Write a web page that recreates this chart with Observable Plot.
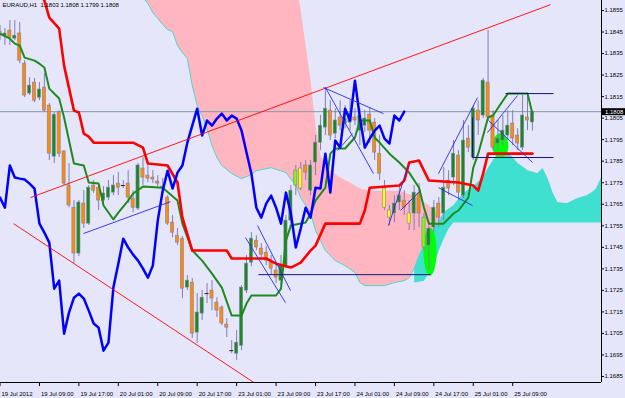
<!DOCTYPE html>
<html><head><meta charset="utf-8">
<script src="https://cdn.jsdelivr.net/npm/d3@7"></script>
<script src="https://cdn.jsdelivr.net/npm/@observablehq/plot@0.6"></script>
<style>html,body{margin:0;padding:0;background:#E6E6FA;overflow:hidden}</style>
</head><body><div id="chart"></div>
<script>
// ---- EURAUD H1 candles (bar index 0 = 19 Jul 01:00) ----
const open = [1.18452,1.18429,1.18457,1.18419,1.18443,1.18303,1.18164,1.18215,1.18145,1.18192,1.18108,1.17871,1.18076,1.17895,1.17737,1.17634,1.17421,1.17653,1.17560,1.17737,1.17727,1.17667,1.17681,1.17704,1.17746,1.17737,1.17746,1.17676,1.17630,1.17816,1.17783,1.17774,1.17755,1.17732,1.17681,1.17565,1.17504,1.17490,1.17263,1.17286,1.17054,1.17142,1.17235,1.17249,1.17193,1.17170,1.17091,1.16970,1.16956,1.16993,1.17249,1.17379,1.17481,1.17444,1.17425,1.17379,1.17342,1.17295,1.17365,1.17574,1.17737,1.17816,1.17830,1.17713,1.17844,1.17936,1.18006,1.18085,1.17978,1.18053,1.18025,1.18029,1.18053,1.17992,1.18015,1.18066,1.18029,1.17885,1.17723,1.17621,1.17607,1.17658,1.17667,1.17607,1.17607,1.17700,1.17588,1.17458,1.17542,1.17653,1.17607,1.17760,1.17774,1.17876,1.17690,1.17955,1.17867,1.18085,1.18062,1.18215,1.18062,1.17932,1.17946,1.17969,1.18025,1.17969,1.17913,1.18053,1.18030];
const high = [1.18480,1.18466,1.18503,1.18503,1.18494,1.18317,1.18238,1.18234,1.18215,1.18257,1.18118,1.18076,1.18085,1.17899,1.17839,1.17667,1.17667,1.17713,1.17737,1.17760,1.17746,1.17732,1.17760,1.17783,1.17797,1.17760,1.17806,1.17713,1.17839,1.17867,1.17830,1.17806,1.17783,1.17769,1.17690,1.17597,1.17537,1.17500,1.17319,1.17305,1.17235,1.17249,1.17281,1.17295,1.17216,1.17179,1.17119,1.17017,1.17063,1.17272,1.17412,1.17518,1.17504,1.17467,1.17453,1.17412,1.17370,1.17412,1.17597,1.17737,1.17830,1.17844,1.17853,1.17853,1.17969,1.18062,1.18192,1.18131,1.18094,1.18131,1.18108,1.18131,1.18094,1.18094,1.18085,1.18099,1.18048,1.17969,1.17760,1.17644,1.17690,1.17737,1.17713,1.17667,1.17737,1.17746,1.17607,1.17565,1.17667,1.17681,1.17820,1.17806,1.17946,1.17899,1.18039,1.18015,1.18108,1.18131,1.18234,1.18457,1.18085,1.18039,1.18062,1.18085,1.18085,1.18001,1.18155,1.18155,1.18080];
const low = [1.18410,1.18387,1.18387,1.18410,1.18303,1.18145,1.18155,1.18122,1.18131,1.18076,1.17853,1.17839,1.17867,1.17737,1.17634,1.17374,1.17407,1.17537,1.17551,1.17700,1.17621,1.17644,1.17667,1.17690,1.17690,1.17723,1.17653,1.17611,1.17621,1.17737,1.17751,1.17746,1.17732,1.17713,1.17551,1.17495,1.17458,1.17212,1.17249,1.17026,1.17003,1.17110,1.17189,1.17156,1.17124,1.17086,1.17031,1.16956,1.16924,1.16970,1.17235,1.17360,1.17435,1.17388,1.17365,1.17319,1.17281,1.17272,1.17351,1.17551,1.17690,1.17713,1.17760,1.17690,1.17783,1.17899,1.17969,1.17946,1.17955,1.17992,1.18001,1.17992,1.18015,1.17922,1.17983,1.17932,1.17853,1.17760,1.17621,1.17551,1.17565,1.17621,1.17597,1.17528,1.17528,1.17542,1.17435,1.17342,1.17518,1.17542,1.17574,1.17690,1.17737,1.17667,1.17676,1.17890,1.17853,1.17969,1.18048,1.18039,1.17899,1.17899,1.17922,1.17946,1.17922,1.17899,1.17899,1.17992,1.17990];
const close = [1.18433,1.18443,1.18424,1.18433,1.18317,1.18155,1.18201,1.18131,1.18183,1.18085,1.17885,1.18066,1.17885,1.17746,1.17644,1.17421,1.17658,1.17560,1.17727,1.17713,1.17667,1.17700,1.17727,1.17737,1.17727,1.17737,1.17681,1.17634,1.17830,1.17774,1.17769,1.17765,1.17746,1.17723,1.17560,1.17518,1.17472,1.17258,1.17295,1.17049,1.17147,1.17216,1.17235,1.17212,1.17156,1.17096,1.17077,1.16970,1.17007,1.17263,1.17374,1.17490,1.17449,1.17416,1.17388,1.17351,1.17309,1.17365,1.17574,1.17713,1.17806,1.17723,1.17797,1.17830,1.17936,1.18015,1.18094,1.17969,1.18039,1.18015,1.18048,1.18071,1.18039,1.18062,1.18048,1.17992,1.17890,1.17792,1.17634,1.17588,1.17653,1.17690,1.17634,1.17560,1.17704,1.17607,1.17449,1.17537,1.17634,1.17588,1.17727,1.17723,1.17885,1.17704,1.17946,1.17913,1.18094,1.18039,1.18224,1.18053,1.17913,1.17955,1.17992,1.18015,1.17955,1.17932,1.18062,1.18039,1.18080];
const highlightBars = [60, 61, 78, 79, 83, 86];
const highlightColors = ["#7CFC00", "#FFFF00", "#FFFF00", "#FFFF00", "#FFFF00", "#7CFC00"];

// ---- Ichimoku lines (bar index, price) ----
const tenkanBars = [0,2,3,4,5,7,8,9,10,12,13,15,17,18,20,21,23,24,26,27,29,33,36,37,39,41,43,45,47,49,50,51,56,57,58,59,62,63,64,66,67,68,70,72,73,75,76,77,79,81,83,85,86,87,90,92,93,95,96,97,99,100,102,103,107,108];
const tenkanVals = [1.18443,1.18419,1.18396,1.18387,1.18331,1.18317,1.18303,1.18285,1.18187,1.18141,1.18053,1.17839,1.17830,1.17751,1.17746,1.17644,1.17579,1.17611,1.17667,1.17700,1.17732,1.17727,1.17667,1.17560,1.17435,1.17388,1.17328,1.17263,1.17133,1.17133,1.17189,1.17226,1.17226,1.17258,1.17481,1.17551,1.17565,1.17607,1.17667,1.17727,1.17885,1.17909,1.17909,1.17960,1.18039,1.18039,1.17960,1.17936,1.17885,1.17844,1.17797,1.17727,1.17634,1.17560,1.17560,1.17607,1.17621,1.17681,1.17820,1.17885,1.18053,1.18062,1.18131,1.18164,1.18164,1.18071];
const kijunBars = [8,9,10,12,13,15,16,17,18,19,27,29,30,34,36,37,39,46,47,54,56,59,61,63,64,66,73,74,75,81,82,83,85,87,93,96,97,98,99,108];
const kijunVals = [1.18680,1.18596,1.18517,1.18466,1.18294,1.18085,1.18076,1.17978,1.17964,1.17936,1.17936,1.17913,1.17839,1.17830,1.17751,1.17588,1.17435,1.17435,1.17398,1.17398,1.17374,1.17356,1.17379,1.17435,1.17458,1.17560,1.17560,1.17621,1.17727,1.17737,1.17760,1.17844,1.17853,1.17760,1.17751,1.17737,1.17713,1.17792,1.17885,1.17885];
const spanABars = [28,29,30,31,32,33,34,35,36,37,38,39,40,41,42,43,44,45,47,49,51,52,55,58,60,61,62,63,64,65,66,68,70,72,73,74,78,80,82,83,84,85,86,87,88,89,90,92,94,96,98,99,100,101,103,105,107,109,110,111,112,113,115,117,119,120,121,122];
const spanAVals = [1.18689,1.18610,1.18582,1.18540,1.18512,1.18485,1.18461,1.18452,1.18387,1.18354,1.18327,1.18201,1.18108,1.18062,1.18001,1.17922,1.17867,1.17830,1.17792,1.17769,1.17788,1.17806,1.17820,1.17797,1.17737,1.17681,1.17644,1.17607,1.17528,1.17481,1.17435,1.17388,1.17365,1.17333,1.17286,1.17272,1.17272,1.17286,1.17295,1.17309,1.17351,1.17412,1.17458,1.17504,1.17537,1.17565,1.17611,1.17644,1.17700,1.17732,1.17774,1.17816,1.17853,1.17885,1.17890,1.17839,1.17806,1.17792,1.17816,1.17769,1.17704,1.17658,1.17653,1.17676,1.17690,1.17704,1.17723,1.17774];
const spanBBars = [28,60,61,62,63,64,65,66,67,69,71,73,75,81,84,87,89,90];
const spanBVals = [1.18700,1.18689,1.18550,1.18387,1.18224,1.18015,1.17876,1.17830,1.17806,1.17774,1.17751,1.17723,1.17713,1.17713,1.17690,1.17644,1.17597,1.17583];
const cyanBottomBars = [84,86,88,89,90,91,92,122];
const cyanBottomVals = [1.17286,1.17295,1.17365,1.17435,1.17490,1.17537,1.17565,1.17565];

// ---- drawn objects (bar index, price) ----
const redX1 = [6.19, 2.74], redP1 = [1.17681, 1.17560], redX2 = [111.66, 51.83], redP2 = [1.18577, 1.16817];
const blueX1 = [16.94,49.80,52.23,65.62,66.02,68.46,78.80,81.24,88.94,88.94,98.88,99.09];
const blueP1 = [1.17514,1.17495,1.17551,1.18192,1.18192,1.17899,1.17551,1.17621,1.17792,1.17727,1.17983,1.18039];
const blueX2 = [34.58,57.91,58.93,77.79,75.76,71.50,82.86,85.29,96.85,95.84,104.97,108.01];
const blueP2 = [1.17662,1.17193,1.17249,1.18071,1.17792,1.17978,1.17830,1.17713,1.18145,1.17644,1.18155,1.17844];
const navyX1 = [52.43,102.54,95.84,95.84], navyP1 = [1.17323,1.18164,1.17867,1.18053];
const navyX2 = [87.32,112.27,112.27,95.84], navyP2 = [1.17323,1.18164,1.17867,1.17867];
const ellipseBars = [87.22, 101.5], ellipseVals = [1.17430, 1.17922];

// ---- axes ----
const yTicks = [1.1685,1.1695,1.1705,1.1715,1.1725,1.1735,1.1745,1.1755,1.1765,1.1775,1.1785,1.1795,1.1805,1.1815,1.1825,1.1835,1.1845,1.1855];
const timeBars = [0,8,16,24,32,40,48,56,64,72,80,88,96,104];
const timeLabels = ["19 Jul 2012","19 Jul 09:00","19 Jul 17:00","20 Jul 01:00","20 Jul 09:00","20 Jul 17:00","23 Jul 01:00","23 Jul 09:00","23 Jul 17:00","24 Jul 01:00","24 Jul 09:00","24 Jul 17:00","25 Jul 01:00","25 Jul 09:00"];
const titleText = "EURAUD,H1\u00a0\u00a01.1803 1.1808 1.1799 1.1808";
const lastPrice = 1.1808;

const xDomain = [0.1014, 122.008];
const yDomain = [1.168221, 1.185964];
const pxPerBar = 4.93;

const pts = (bs, vs) => bs.map((b, i) => ({b, v: vs[i]}));
const candles = open.map((o, i) => ({b: i, o, h: high[i], l: low[i], c: close[i]}));
const bodyColor = d => {
  const k = highlightBars.indexOf(d.b);
  if (k >= 0) return highlightColors[k];
  return d.c > d.o ? "#1b8a1b" : "#FF8C00";
};
const spanA = pts(spanABars, spanAVals);
const spanB = pts(spanBBars, spanBVals);
const cyanBot = pts(cyanBottomBars, cyanBottomVals);
const pinkPoly = spanB.concat(spanA.filter(d => d.b <= 90).reverse());
const cyanPoly = spanA.filter(d => d.b >= 84).concat(cyanBot.slice().reverse());
const chikou = close.slice(26).map((v, i) => ({b: i, v}));
const segs = (x1, p1, x2, p2) => x1.map((x, i) => ({x1: x, y1: p1[i], x2: x2[i], y2: p2[i]}));

function ellipseSymbol(rx, ry) {
  const k = 0.5523;
  return {draw(ctx) {
    ctx.moveTo(rx, 0);
    ctx.bezierCurveTo(rx, ry * k, rx * k, ry, 0, ry);
    ctx.bezierCurveTo(-rx * k, ry, -rx, ry * k, -rx, 0);
    ctx.bezierCurveTo(-rx, -ry * k, -rx * k, -ry, 0, -ry);
    ctx.bezierCurveTo(rx * k, -ry, rx, -ry * k, rx, 0);
    ctx.closePath();
  }};
}
const ell = pts(ellipseBars, ellipseVals);
const wick = "#7f7fb0";

const chart = Plot.plot({
  width: 625, height: 398,
  marginLeft: 0, marginRight: 24, marginTop: 0, marginBottom: 16,
  x: {domain: xDomain, axis: null},
  y: {domain: yDomain, axis: "right", ticks: yTicks, tickFormat: d => d.toFixed(4), tickSize: 2, tickPadding: 1, label: null},
  color: {type: "identity"},
  style: {background: "#E6E6FA", fontFamily: "Liberation Sans", fontSize: "6px", color: "black"},
  marks: [
    Plot.line(pinkPoly, {x: "b", y: "v", fill: "#FFB6C1", stroke: "none", clip: true}),
    Plot.line(cyanPoly, {x: "b", y: "v", fill: "#40E0D0", stroke: "none", clip: true}),
    Plot.line(spanA, {x: "b", y: "v", stroke: "#4dd8cc", strokeWidth: 1, clip: true}),
    Plot.ruleY([lastPrice], {stroke: "#8596a8", strokeWidth: 1}),
    Plot.dot([ell[0]], {x: "b", y: "v", r: 5, symbol: ellipseSymbol(6.5, 24), fill: "#00FF00", stroke: "none"}),
    Plot.dot([ell[1]], {x: "b", y: "v", r: 5, symbol: ellipseSymbol(8, 12.5), fill: "#00FF00", stroke: "none"}),
    Plot.ruleX(candles, {x: "b", y1: "l", y2: "h", stroke: wick, strokeWidth: 1}),
    Plot.rect(candles.filter(d => d.o !== d.c), {x1: d => d.b - 0.32, x2: d => d.b + 0.32, y1: "o", y2: "c", fill: bodyColor, stroke: wick, strokeWidth: 0.6}),
    Plot.ruleY(candles.filter(d => d.o === d.c), {x1: d => d.b - 0.4, x2: d => d.b + 0.4, y: "o", stroke: "#222", strokeWidth: 1}),
    Plot.line(pts(tenkanBars, tenkanVals), {x: "b", y: "v", stroke: "#1e8a1e", strokeWidth: 2, clip: true}),
    Plot.line(pts(kijunBars, kijunVals), {x: "b", y: "v", stroke: "#FF0000", strokeWidth: 2.6, clip: true}),
    Plot.line(chikou, {x: "b", y: "v", stroke: "#0000FF", strokeWidth: 2.5, clip: true}),
    Plot.link(segs(redX1, redP1, redX2, redP2), {x1: "x1", y1: "y1", x2: "x2", y2: "y2", stroke: "#FF0000", strokeWidth: 0.9, clip: true}),
    Plot.link(segs(blueX1, blueP1, blueX2, blueP2), {x1: "x1", y1: "y1", x2: "x2", y2: "y2", stroke: "#2a2ae0", strokeWidth: 0.9, clip: true}),
    Plot.link(segs(navyX1, navyP1, navyX2, navyP2), {x1: "x1", y1: "y1", x2: "x2", y2: "y2", stroke: "#12127a", strokeWidth: 1, clip: true}),
    Plot.text([titleText], {frameAnchor: "top-left", dx: 2, dy: 5, text: d => d, textAnchor: "start", lineAnchor: "middle", fill: "black"}),
    Plot.ruleX([xDomain[1]], {y1: () => yDomain[0], y2: () => yDomain[1], stroke: "black"}),
    Plot.ruleY([yDomain[0]], {x1: () => xDomain[0], x2: () => xDomain[1], stroke: "black"}),
    Plot.ruleX(timeBars, {x: d => d, y1: () => yDomain[0], y2: () => yDomain[0] - 0.00019, stroke: "black"}),
    Plot.text(timeBars, {x: d => d, frameAnchor: "bottom", dx: 1.5, dy: 11.5, text: (d, i) => timeLabels[i], textAnchor: "start", lineAnchor: "middle", fill: "black"}),
    Plot.ruleY([lastPrice], {x1: () => xDomain[1] + 0.08, x2: () => xDomain[1] + 24 / pxPerBar, stroke: "black", strokeWidth: 7}),
    Plot.text([lastPrice], {y: d => d, frameAnchor: "right", dx: 3.5, text: d => d.toFixed(4), textAnchor: "start", fill: "white"})
  ]
});
document.getElementById("chart").appendChild(chart);
</script></body></html>
